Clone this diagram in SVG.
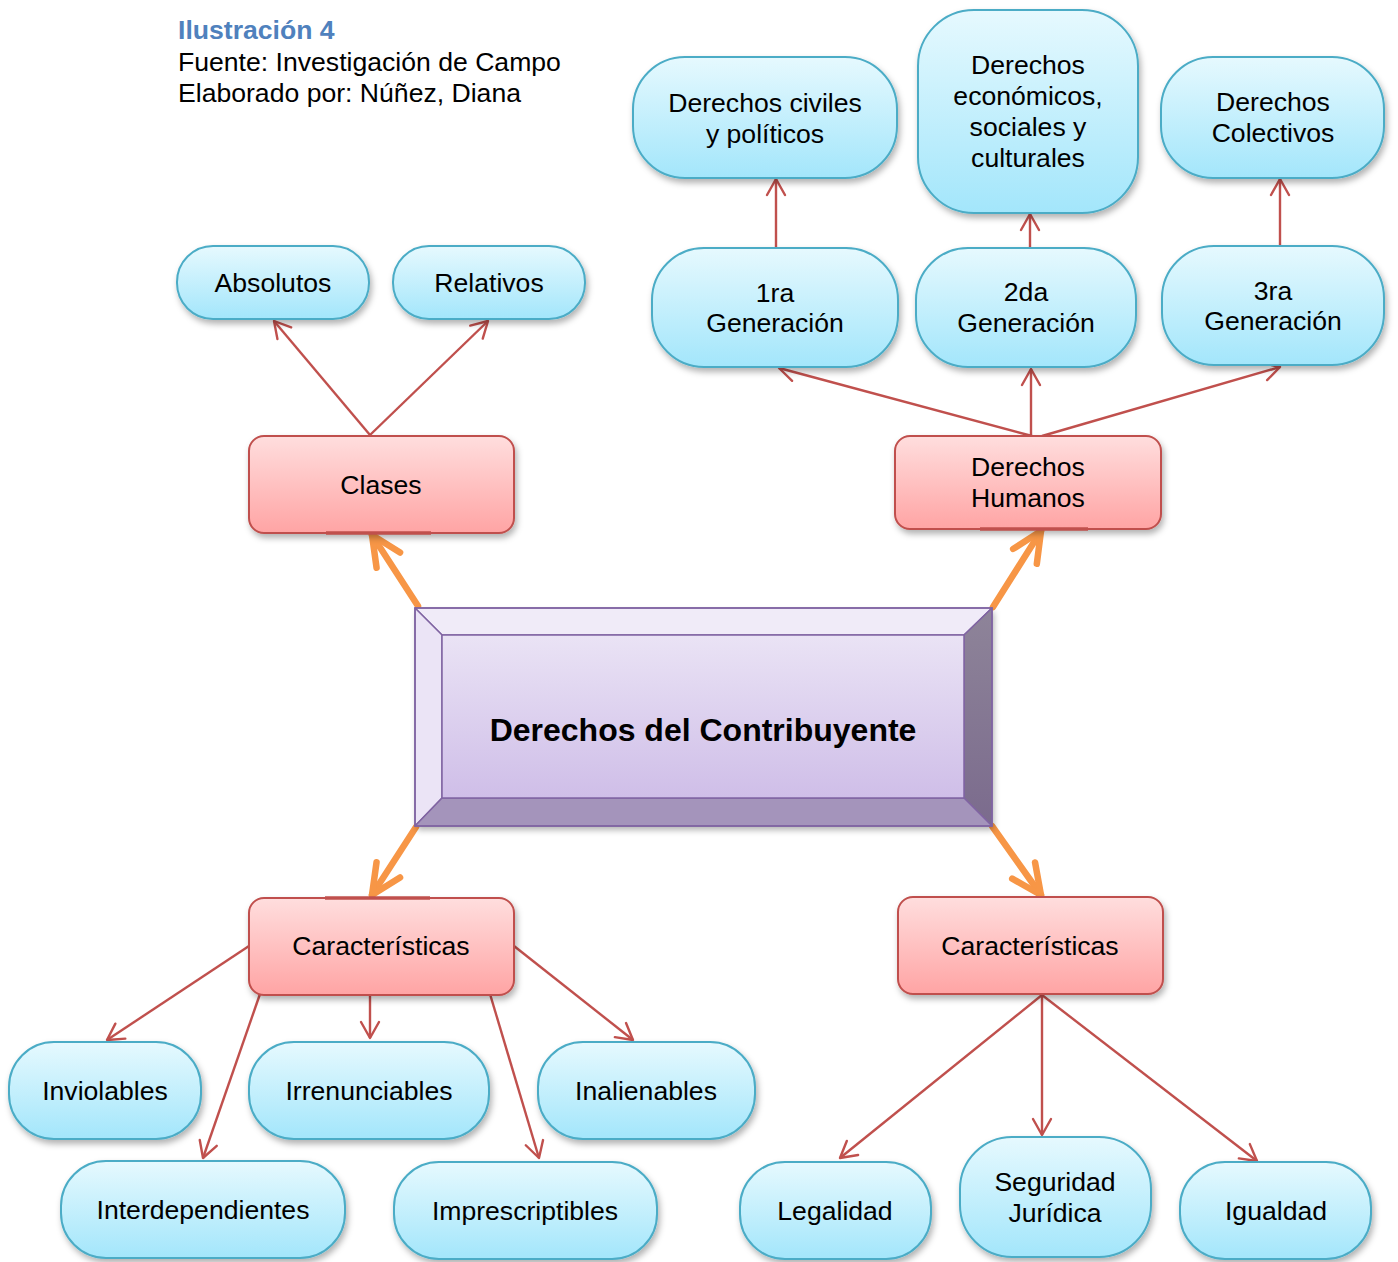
<svg xmlns="http://www.w3.org/2000/svg" width="1398" height="1262" viewBox="0 0 1398 1262">
  <defs>
    <linearGradient id="gBlue" x1="0" y1="0" x2="0" y2="1">
      <stop offset="0" stop-color="#E6F9FE"/>
      <stop offset="1" stop-color="#A3E6FB"/>
    </linearGradient>
    <linearGradient id="gRed" x1="0" y1="0" x2="0" y2="1">
      <stop offset="0" stop-color="#FFDEDE"/>
      <stop offset="1" stop-color="#FFA4A4"/>
    </linearGradient>
    <linearGradient id="gFace" x1="0" y1="0" x2="0" y2="1">
      <stop offset="0" stop-color="#EAE3F5"/>
      <stop offset="1" stop-color="#CFBEE8"/>
    </linearGradient>
    <linearGradient id="gRight" x1="0" y1="0" x2="0" y2="1">
      <stop offset="0" stop-color="#8E8499"/>
      <stop offset="1" stop-color="#7B6B8D"/>
    </linearGradient>
    <filter id="shadow" x="-10%" y="-10%" width="125%" height="135%">
      <feDropShadow dx="2" dy="4" stdDeviation="3" flood-color="#000" flood-opacity="0.3"/>
    </filter>
    <marker id="arrRed" markerUnits="userSpaceOnUse" viewBox="-20 -12 22 24" refX="0" refY="0" markerWidth="22" markerHeight="24" orient="auto">
      <path d="M-16,-9 L0,0 L-16,9" fill="none" stroke="#C0504D" stroke-width="2.4" stroke-linecap="round" stroke-linejoin="round"/>
    </marker>
    <marker id="arrOrange" markerUnits="userSpaceOnUse" viewBox="-36 -18 40 36" refX="0" refY="0" markerWidth="40" markerHeight="36" orient="auto">
      <path d="M-30,-14 L0,0 L-30,14" fill="none" stroke="#F79646" stroke-width="6.5" stroke-linecap="round" stroke-linejoin="round"/>
    </marker>
  </defs>
  <style>
    text { font-family: "Liberation Sans", Arial, sans-serif; font-size: 26.6px; fill: #000; text-anchor: middle; }
    .blue { fill: url(#gBlue); stroke: #4BACC6; stroke-width: 2; filter: url(#shadow); }
    .red { fill: url(#gRed); stroke: #C0504D; stroke-width: 2; filter: url(#shadow); }
    .accent { stroke: #C0504D; stroke-width: 3.5; }
    .link { fill: none; stroke: #C0504D; stroke-width: 2.4; marker-end: url(#arrRed); }
    .main { fill: none; stroke: #F79646; stroke-width: 6.5; stroke-linecap: round; marker-end: url(#arrOrange); }
    .bevel { stroke: #8064A2; stroke-width: 1.5; stroke-linejoin: round; }
    .caption { text-anchor: start; }
  </style>

  <!-- caption -->
  <g id="caption">
    <text class="caption" x="178" y="39" font-weight="bold" style="fill:#4F81BD">Ilustración 4</text>
    <text class="caption" x="178" y="71">Fuente: Investigación de Campo</text>
    <text class="caption" x="178" y="102">Elaborado por: Núñez, Diana</text>
  </g>

  <!-- connectors -->
  <g id="connectors">
    <line class="link" x1="370" y1="435" x2="274" y2="321"/>
    <line class="link" x1="370" y1="435" x2="488" y2="321"/>
    <line class="link" x1="1032" y1="436" x2="779" y2="368"/>
    <line class="link" x1="1031" y1="436" x2="1031" y2="369"/>
    <line class="link" x1="1042" y1="436" x2="1280" y2="367"/>
    <line class="link" x1="776" y1="247" x2="776" y2="179"/>
    <line class="link" x1="1030" y1="247" x2="1030" y2="214"/>
    <line class="link" x1="1280" y1="246" x2="1280" y2="179"/>
    <line class="link" x1="249" y1="946" x2="107" y2="1040"/>
    <line class="link" x1="260" y1="994" x2="203" y2="1158"/>
    <line class="link" x1="370" y1="995" x2="370" y2="1038"/>
    <line class="link" x1="490" y1="994" x2="539" y2="1158"/>
    <line class="link" x1="514" y1="946" x2="633" y2="1040"/>
    <line class="link" x1="1042" y1="995" x2="840" y2="1158"/>
    <line class="link" x1="1042" y1="995" x2="1042" y2="1135"/>
    <line class="link" x1="1042" y1="995" x2="1257" y2="1161"/>
    <line class="main" x1="418" y1="606" x2="372" y2="535"/>
    <line class="main" x1="993" y1="607" x2="1041" y2="531"/>
    <line class="main" x1="416" y1="827" x2="372" y2="895"/>
    <line class="main" x1="992" y1="826" x2="1041" y2="895"/>
  </g>

  <!-- central bevelled box -->
  <g id="n-contribuyente">
    <rect x="415" y="608" width="577" height="218" fill="#A393BA" filter="url(#shadow)"/>
    <polygon class="bevel" points="415,608 992,608 964,635 442,635" fill="#F0EBF8"/>
    <polygon class="bevel" points="415,608 442,635 442,798 415,826" fill="#EBE4F6"/>
    <polygon class="bevel" points="992,608 992,826 964,798 964,635" fill="url(#gRight)"/>
    <polygon class="bevel" points="415,826 442,798 964,798 992,826" fill="#A494BB"/>
    <rect class="bevel" x="442" y="635" width="522" height="163" fill="url(#gFace)"/>
    <rect x="415" y="608" width="577" height="218" fill="none" stroke="#8064A2" stroke-width="1.5"/>
    <text x="703" y="741" font-weight="bold" style="font-size:32px">Derechos del Contribuyente</text>
  </g>

  <!-- second level -->
  <g id="n-clases">
    <rect class="red" x="249" y="436" width="265" height="97" rx="15"/>
    <line class="accent" x1="326" y1="533" x2="431" y2="533"/>
    <text x="381" y="494">Clases</text>
  </g>
  <g id="n-derechos-humanos">
    <rect class="red" x="895" y="436" width="266" height="93" rx="15"/>
    <line class="accent" x1="980" y1="529" x2="1088" y2="529"/>
    <text x="1028" y="476">Derechos</text>
    <text x="1028" y="507">Humanos</text>
  </g>
  <g id="n-caracteristicas-1">
    <rect class="red" x="249" y="898" width="265" height="97" rx="15"/>
    <line class="accent" x1="325" y1="898" x2="430" y2="898"/>
    <text x="381" y="955">Características</text>
  </g>
  <g id="n-caracteristicas-2">
    <rect class="red" x="898" y="897" width="265" height="97" rx="15"/>
    <text x="1030" y="955">Características</text>
  </g>

  <!-- classes -->
  <g id="n-absolutos">
    <rect class="blue" x="177" y="246" width="192" height="73" rx="36"/>
    <text x="273" y="292">Absolutos</text>
  </g>
  <g id="n-relativos">
    <rect class="blue" x="393" y="246" width="192" height="73" rx="36"/>
    <text x="489" y="292">Relativos</text>
  </g>

  <!-- generations -->
  <g id="n-1ra">
    <rect class="blue" x="652" y="248" width="246" height="119" rx="52"/>
    <text x="775" y="302">1ra</text>
    <text x="775" y="332">Generación</text>
  </g>
  <g id="n-2da">
    <rect class="blue" x="916" y="248" width="220" height="119" rx="52"/>
    <text x="1026" y="301">2da</text>
    <text x="1026" y="332">Generación</text>
  </g>
  <g id="n-3ra">
    <rect class="blue" x="1162" y="246" width="222" height="119" rx="52"/>
    <text x="1273" y="300">3ra</text>
    <text x="1273" y="330">Generación</text>
  </g>
  <g id="n-civiles">
    <rect class="blue" x="633" y="57" width="264" height="121" rx="52"/>
    <text x="765" y="112">Derechos civiles</text>
    <text x="765" y="143">y políticos</text>
  </g>
  <g id="n-economicos">
    <rect class="blue" x="918" y="10" width="220" height="203" rx="56"/>
    <text x="1028" y="74">Derechos</text>
    <text x="1028" y="105">económicos,</text>
    <text x="1028" y="136">sociales y</text>
    <text x="1028" y="167">culturales</text>
  </g>
  <g id="n-colectivos">
    <rect class="blue" x="1161" y="57" width="223" height="121" rx="52"/>
    <text x="1273" y="111">Derechos</text>
    <text x="1273" y="142">Colectivos</text>
  </g>

  <!-- characteristics (left) -->
  <g id="n-inviolables">
    <rect class="blue" x="9" y="1042" width="192" height="97" rx="45"/>
    <text x="105" y="1100">Inviolables</text>
  </g>
  <g id="n-irrenunciables">
    <rect class="blue" x="249" y="1042" width="240" height="97" rx="45"/>
    <text x="369" y="1100">Irrenunciables</text>
  </g>
  <g id="n-inalienables">
    <rect class="blue" x="538" y="1042" width="217" height="97" rx="45"/>
    <text x="646" y="1100">Inalienables</text>
  </g>
  <g id="n-interdependientes">
    <rect class="blue" x="61" y="1161" width="284" height="97" rx="45"/>
    <text x="203" y="1219">Interdependientes</text>
  </g>
  <g id="n-imprescriptibles">
    <rect class="blue" x="394" y="1162" width="263" height="97" rx="45"/>
    <text x="525" y="1220">Imprescriptibles</text>
  </g>

  <!-- characteristics (right) -->
  <g id="n-legalidad">
    <rect class="blue" x="740" y="1162" width="191" height="97" rx="45"/>
    <text x="835" y="1220">Legalidad</text>
  </g>
  <g id="n-seguridad">
    <rect class="blue" x="960" y="1137" width="191" height="120" rx="52"/>
    <text x="1055" y="1191">Seguridad</text>
    <text x="1055" y="1222">Jurídica</text>
  </g>
  <g id="n-igualdad">
    <rect class="blue" x="1180" y="1162" width="191" height="97" rx="45"/>
    <text x="1276" y="1220">Igualdad</text>
  </g>
</svg>
